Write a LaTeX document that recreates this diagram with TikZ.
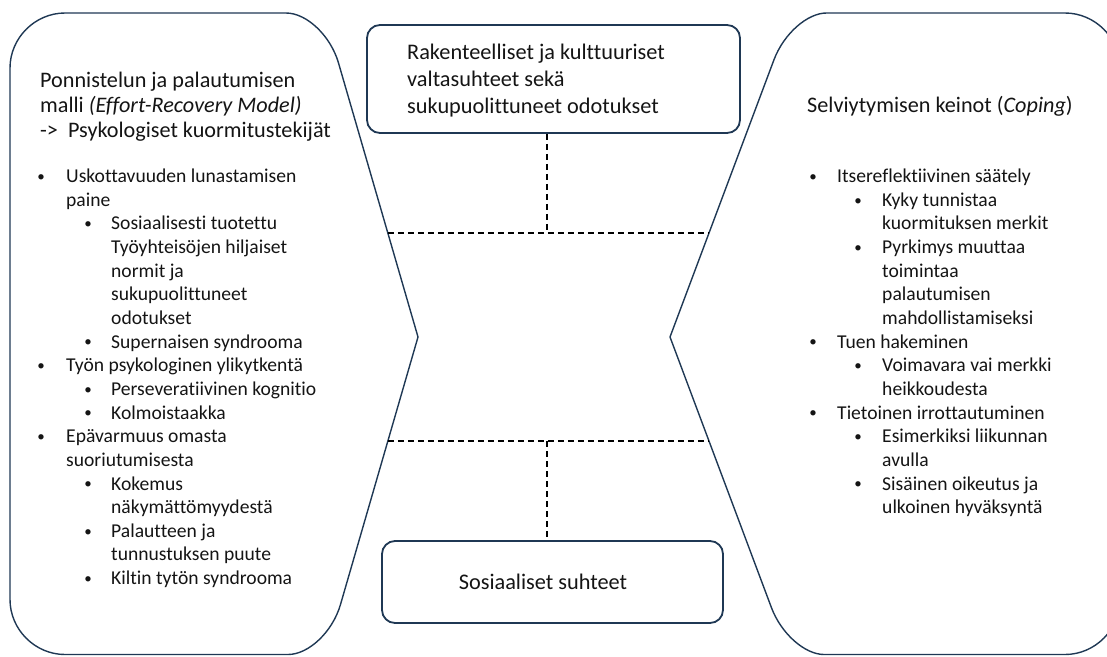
\documentclass[tikz,border=0pt]{standalone}
\usepackage{fontspec}
\setmainfont[Ligatures=NoCommon]{Carlito}
\usetikzlibrary{calc}
\definecolor{navy}{RGB}{31,56,84}
\definecolor{ink}{RGB}{20,20,20}
\newcommand\fL{\fontsize{19.6}{23.65}\selectfont}
\newcommand\fT{\fontsize{22.2}{25}\selectfont}
\newcommand\fB{\fontsize{22.3}{27}\selectfont}
\newcommand\fD{\fontsize{15}{18}\selectfont}
\newcommand\Yl[1]{178+23.65*#1}
\begin{document}
\begin{tikzpicture}[x=1pt,y=-1pt,
  shp/.style={draw=navy,line width=1.4pt,line join=round},
  box/.style={draw=navy,line width=1.8pt,rounded corners=13pt,inner sep=0pt},
  dsh/.style={draw=black,line width=1.6pt,dash pattern=on 6pt off 4pt},
  ln/.style={font=\fL,text=ink,anchor=west,inner sep=0pt,text height=13.4pt,text depth=4.3pt},
  bl/.style={font=\fD,text=ink,inner sep=0pt},
  tt/.style={font=\fT,text=ink,anchor=west,inner sep=0pt,text height=15pt,text depth=4.7pt},
  bt/.style={font=\fB,text=ink,anchor=west,inner sep=0pt,text height=15pt,text depth=4.7pt}]
\useasboundingbox (0,0) rectangle (1107,656);
\clip (0,0) rectangle (1107,656);
% left shape
\coordinate (LT) at (418,337);
\coordinate (LV1) at (10,13);
\coordinate (LV2) at (324,13);
\coordinate (LV3) at (326,654.5);
\coordinate (LV4) at (10,654.5);
\draw[shp] ($(LV1)!55pt!(LV4)$) .. controls ($(LV1)!25pt!(LV4)$) and ($(LV1)!25pt!(LV2)$) .. ($(LV1)!55pt!(LV2)$)
  -- ($(LV2)!38pt!(LV1)$) .. controls ($(LV2)!17pt!(LV1)$) and ($(LV2)!24pt!(LT)$) .. ($(LV2)!52pt!(LT)$)
  -- (LT)
  -- ($(LV3)!52pt!(LT)$) .. controls ($(LV3)!24pt!(LT)$) and ($(LV3)!17pt!(LV4)$) .. ($(LV3)!38pt!(LV4)$)
  -- ($(LV4)!55pt!(LV3)$) .. controls ($(LV4)!25pt!(LV3)$) and ($(LV4)!25pt!(LV1)$) .. ($(LV4)!55pt!(LV1)$)
  -- cycle;
% right shape
\coordinate (RT) at (670,337);
\coordinate (RV1) at (791.5,13);
\coordinate (RV2) at (789,654.5);
\coordinate (RV3) at (1120,654.5);
\coordinate (RV4) at (1120,13);
\draw[shp] ($(RV1)!35pt!(RV4)$) .. controls ($(RV1)!16pt!(RV4)$) and ($(RV1)!22pt!(RT)$) .. ($(RV1)!50pt!(RT)$)
  -- (RT)
  -- ($(RV2)!50pt!(RT)$) .. controls ($(RV2)!22pt!(RT)$) and ($(RV2)!16pt!(RV3)$) .. ($(RV2)!35pt!(RV3)$)
  -- ($(RV3)!55pt!(RV2)$) .. controls ($(RV3)!25pt!(RV2)$) and ($(RV3)!25pt!(RV4)$) .. ($(RV3)!55pt!(RV4)$)
  -- ($(RV4)!55pt!(RV3)$) .. controls ($(RV4)!25pt!(RV3)$) and ($(RV4)!25pt!(RV1)$) .. ($(RV4)!55pt!(RV1)$)
  -- cycle;
% boxes
\node[box,minimum width=373pt,minimum height=108pt] (top) at (553.5,79) {};
\node[box,minimum width=341pt,minimum height=82pt] (bot) at (552.5,582) {};
% dashed connectors
\coordinate (uL) at ($(LT)!0.321!(LV2)$);
\coordinate (uR) at ($(RT)!0.321!(RV1)$);
\coordinate (lL) at ($(LT)!0.3276!(LV3)$);
\coordinate (lR) at ($(RT)!0.3276!(RV2)$);
\coordinate (uM) at (547,233);
\coordinate (lM) at (547,441);
\draw[dsh] (uL) -- (uR);
\draw[dsh] (lL) -- (lR);
\draw[dsh] (uM |- top.south) -- (uM);
\draw[dsh] (lM) -- (lM |- bot.north);
% box texts
\node[bt] (t1) at (407,54) {Rakenteelliset ja kulttuuriset};
\node[bt] (t2) at (407,81) {valtasuhteet sekä};
\node[bt] (t3) at (407,108) {sukupuolittuneet odotukset};
\node[font=\fB,text=ink,inner sep=0pt] (b1) at (543,582) {Sosiaaliset suhteet};
% left titles
\node[tt] (h1) at (40,82) {Ponnistelun ja palautumisen};
\node[tt] (h2) at (40,107) {malli \textit{(Effort-Recovery Model)}};
\node[tt] (h3) at (40,132) {->\ \ Psykologiset kuormitustekijät};
% right title
\node[tt] (r0) at (807,107) {Selviytymisen keinot (\textit{Coping})};
% left list
\node[bl] (lb0) at (41,\Yl{0}) {\textbullet};
\node[ln] (l0) at (66,\Yl{0}) {Uskottavuuden lunastamisen};
\node[ln] (l1) at (66,\Yl{1}) {paine};
\node[bl] (lb2) at (88,\Yl{2}) {\textbullet};
\node[ln] (l2) at (111,\Yl{2}) {Sosiaalisesti tuotettu};
\node[ln] (l3) at (111,\Yl{3}) {Työyhteisöjen hiljaiset};
\node[ln] (l4) at (111,\Yl{4}) {normit ja};
\node[ln] (l5) at (111,\Yl{5}) {sukupuolittuneet};
\node[ln] (l6) at (111,\Yl{6}) {odotukset};
\node[bl] (lb7) at (88,\Yl{7}) {\textbullet};
\node[ln] (l7) at (111,\Yl{7}) {Supernaisen syndrooma};
\node[bl] (lb8) at (41,\Yl{8}) {\textbullet};
\node[ln] (l8) at (66,\Yl{8}) {Työn psykologinen ylikytkentä};
\node[bl] (lb9) at (88,\Yl{9}) {\textbullet};
\node[ln] (l9) at (111,\Yl{9}) {Perseveratiivinen kognitio};
\node[bl] (lb10) at (88,\Yl{10}) {\textbullet};
\node[ln] (l10) at (111,\Yl{10}) {Kolmoistaakka};
\node[bl] (lb11) at (41,\Yl{11}) {\textbullet};
\node[ln] (l11) at (66,\Yl{11}) {Epävarmuus omasta};
\node[ln] (l12) at (66,\Yl{12}) {suoriutumisesta};
\node[bl] (lb13) at (88,\Yl{13}) {\textbullet};
\node[ln] (l13) at (111,\Yl{13}) {Kokemus};
\node[ln] (l14) at (111,\Yl{14}) {näkymättömyydestä};
\node[bl] (lb15) at (88,\Yl{15}) {\textbullet};
\node[ln] (l15) at (111,\Yl{15}) {Palautteen ja};
\node[ln] (l16) at (111,\Yl{16}) {tunnustuksen puute};
\node[bl] (lb17) at (88,\Yl{17}) {\textbullet};
\node[ln] (l17) at (111,\Yl{17}) {Kiltin tytön syndrooma};
% right list
\node[bl] (rb0) at (813,\Yl{0}) {\textbullet};
\node[ln] (r1) at (837,\Yl{0}) {Itsereflektiivinen säätely};
\node[bl] (rb1) at (858,\Yl{1}) {\textbullet};
\node[ln] (r2) at (882,\Yl{1}) {Kyky tunnistaa};
\node[ln] (r3) at (882,\Yl{2}) {kuormituksen merkit};
\node[bl] (rb3) at (858,\Yl{3}) {\textbullet};
\node[ln] (r4) at (882,\Yl{3}) {Pyrkimys muuttaa};
\node[ln] (r5) at (882,\Yl{4}) {toimintaa};
\node[ln] (r6) at (882,\Yl{5}) {palautumisen};
\node[ln] (r7) at (882,\Yl{6}) {mahdollistamiseksi};
\node[bl] (rb7) at (813,\Yl{7}) {\textbullet};
\node[ln] (r8) at (837,\Yl{7}) {Tuen hakeminen};
\node[bl] (rb8) at (858,\Yl{8}) {\textbullet};
\node[ln] (r9) at (882,\Yl{8}) {Voimavara vai merkki};
\node[ln] (r10) at (882,\Yl{9}) {heikkoudesta};
\node[bl] (rb10) at (813,\Yl{10}) {\textbullet};
\node[ln] (r11) at (837,\Yl{10}) {Tietoinen irrottautuminen};
\node[bl] (rb11) at (858,\Yl{11}) {\textbullet};
\node[ln] (r12) at (882,\Yl{11}) {Esimerkiksi liikunnan};
\node[ln] (r13) at (882,\Yl{12}) {avulla};
\node[bl] (rb13) at (858,\Yl{13}) {\textbullet};
\node[ln] (r14) at (882,\Yl{13}) {Sisäinen oikeutus ja};
\node[ln] (r15) at (882,\Yl{14}) {ulkoinen hyväksyntä};
\end{tikzpicture}
\end{document}
